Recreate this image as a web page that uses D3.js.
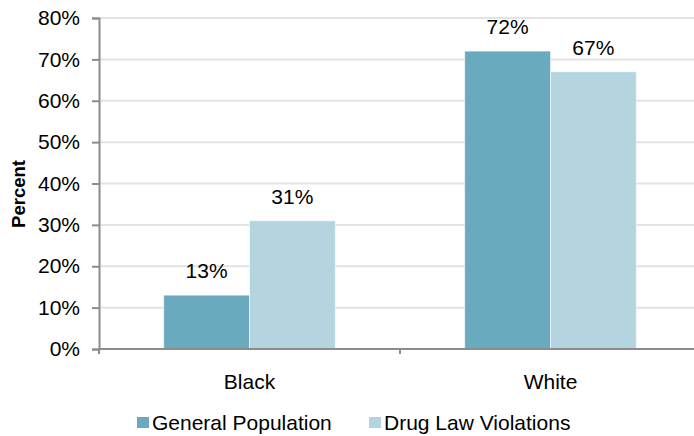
<!DOCTYPE html>
<html><head><meta charset="utf-8">
<script src="https://cdn.jsdelivr.net/npm/d3@7"></script>
<style>body{margin:0;background:#fff}svg{display:block}text{font-family:"Liberation Sans",Arial,sans-serif}</style>
</head><body><svg id="c" width="694" height="436"></svg>
<script>
const categories = ["Black", "White"];
const seriesNames = ["General Population", "Drug Law Violations"];
const generalPopulation = [13, 72];
const drugLawViolations = [31, 67];
const yTicks = [0, 10, 20, 30, 40, 50, 60, 70, 80];
const colors = ["#69aabf", "#b4d4df"];

const svg = d3.select("#c");
const mLeft = 99, mRight = 701, mTop = 18, mBottom = 349;
const y = d3.scaleLinear().domain([0, 80]).range([mBottom, mTop]);
const x0 = d3.scaleBand().domain(categories).range([mLeft, mRight]).paddingInner(0.43).paddingOuter(0.215);
const x1 = d3.scaleBand().domain(seriesNames).range([0, x0.bandwidth()]);
const series = [generalPopulation, drugLawViolations];

// gridlines
svg.append("g").selectAll("line").data(yTicks.filter(d => d > 0)).join("line")
  .attr("x1", mLeft).attr("x2", 694).attr("y1", d => y(d)).attr("y2", d => y(d))
  .attr("stroke", "#e3e3e3").attr("stroke-width", 2);

// y axis
const ya = svg.append("g").attr("transform", `translate(${mLeft},0)`)
  .call(d3.axisLeft(y).tickValues(yTicks).tickFormat(d => d + "%").tickSize(7).tickPadding(12));
ya.select(".domain").attr("stroke", "#8c8c8c").attr("stroke-width", 2);
ya.selectAll(".tick line").attr("stroke", "#8c8c8c").attr("stroke-width", 2);
ya.selectAll("text").attr("font-size", 21).attr("fill", "#000").attr("font-family", '"Liberation Sans",Arial,sans-serif');

// bars
const groups = svg.append("g").selectAll("g").data(categories).join("g")
  .attr("transform", d => `translate(${x0(d)},0)`);
groups.selectAll("rect").data((c, i) => seriesNames.map((s, j) => ({s, v: series[j][i], j}))).join("rect")
  .attr("x", d => x1(d.s)).attr("width", x1.bandwidth())
  .attr("y", d => y(d.v)).attr("height", d => y(0) - y(d.v))
  .attr("fill", d => colors[d.j]).attr("stroke", "#ffffff").attr("stroke-opacity", 0.5).attr("stroke-width", 1);
groups.selectAll("text").data((c, i) => seriesNames.map((s, j) => ({s, v: series[j][i], j}))).join("text")
  .attr("x", d => x1(d.s) + x1.bandwidth() / 2).attr("y", d => y(d.v) - 17)
  .attr("text-anchor", "middle").attr("font-size", 21).attr("fill", "#000")
  .text(d => d.v + "%");

// x axis
const xa = svg.append("g").attr("transform", `translate(0,${mBottom})`)
  .call(d3.axisBottom(x0).tickSize(0).tickPadding(25));
xa.select(".domain").attr("stroke", "#8c8c8c").attr("stroke-width", 2).attr("d", `M${mLeft},0H694`);
xa.selectAll("text").attr("font-size", 21).attr("fill", "#000").attr("font-family", '"Liberation Sans",Arial,sans-serif');
// category boundary ticks
const bounds = [mLeft, ...categories.slice(1).map(c => x0(c) - x0.step() * x0.paddingInner() / 2)];
svg.append("g").selectAll("line").data(bounds).join("line")
  .attr("x1", d => d).attr("x2", d => d).attr("y1", mBottom).attr("y2", mBottom + 5)
  .attr("stroke", "#8c8c8c").attr("stroke-width", 2);

// y label
svg.append("text").attr("transform", "translate(25,194) rotate(-90)")
  .attr("text-anchor", "middle").attr("font-size", 18.5).attr("font-weight", "bold").text("Percent");

// legend
const legX = [137, 369];
const leg = svg.append("g").selectAll("g").data(seriesNames).join("g")
  .attr("transform", (d, i) => `translate(${legX[i]},0)`);
leg.append("rect").attr("x", 0).attr("y", 417).attr("width", 12).attr("height", 11).attr("fill", (d, i) => colors[i]);
leg.append("text").attr("x", 15).attr("y", 430).attr("font-size", 21).text(d => d);
</script></body></html>
